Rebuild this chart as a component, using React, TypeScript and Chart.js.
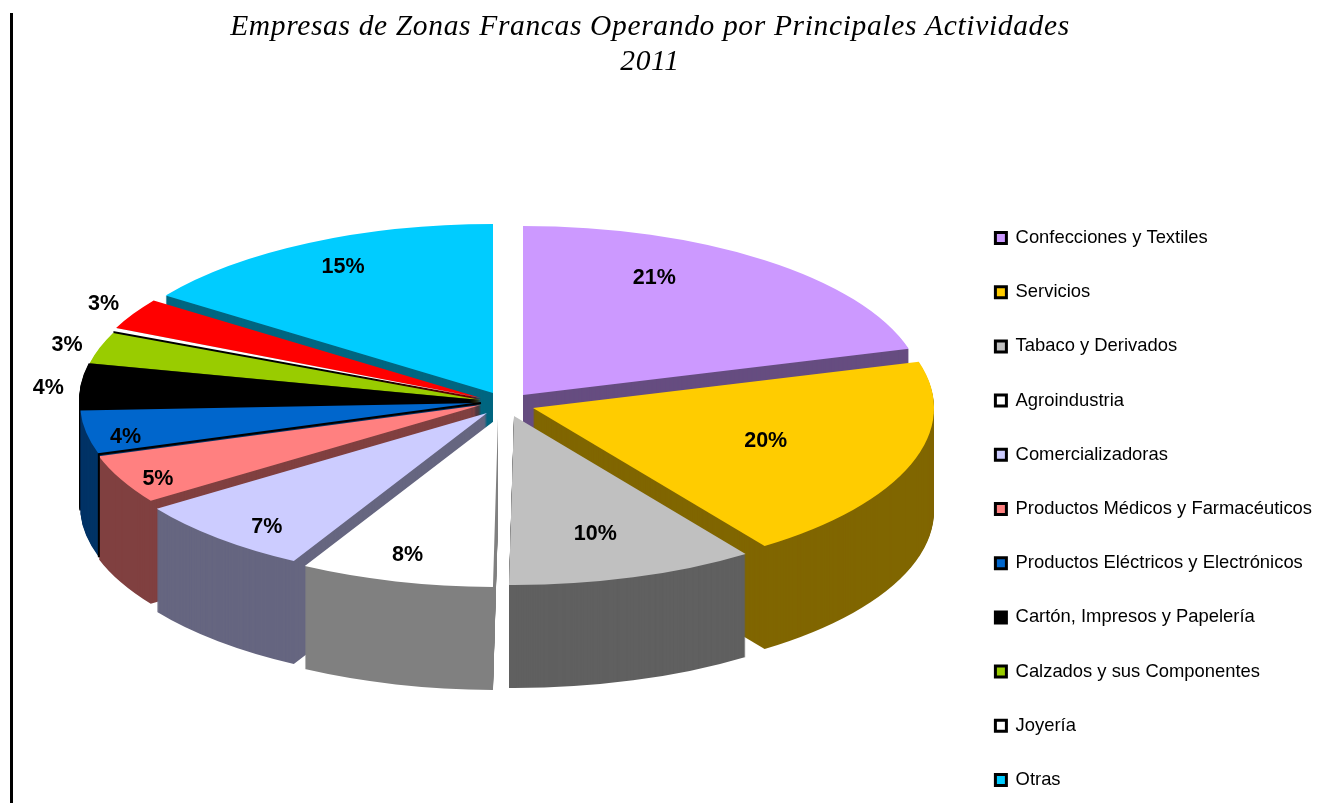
import React, { useEffect, useRef } from "react";
import { Chart, registerables } from "chart.js";

Chart.register(...registerables);

const TITLE_LINES = ["Empresas de Zonas Francas Operando por Principales Actividades", "2011"];
const sliceNames = [
  "Confecciones y Textiles",
  "Servicios",
  "Tabaco y Derivados",
  "Agroindustria",
  "Comercializadoras",
  "Productos Médicos y Farmacéuticos",
  "Productos Eléctricos y Electrónicos",
  "Cartón, Impresos y Papelería",
  "Calzados y sus Componentes",
  "Joyería",
  "",
  "Otras",
];
const sliceValues = [20.6, 19.6, 10, 7.8, 7.4, 4.7, 4.2, 4.2, 3, 0.3, 3, 15.2];
const topColors = ["#CC99FF", "#FFCC00", "#C0C0C0", "#FFFFFF", "#CCCCFF", "#FF8080", "#0066CC", "#000000", "#99CC00", "#FFFFFF", "#FF0000", "#00CCFF"];
const wallColors = ["#664D80", "#806600", "#606060", "#808080", "#666680", "#804040", "#003366", "#000000", "#4D6600", "#000000", "#800000", "#006680"];

// Screen placement of each exploded wedge (its apex) relative to the pie centre.
const PIE = { cx: 505, cy: 403, rx: 401, ry: 169, depth: 103 };
const apexShiftX = [18, 28, 9, -7, -18, -24, -24, -25, -24, -24, -24, -12];
const apexShiftY = [-8, 5, 13, 15, 10, 2, 0, -3, -3, -5, -5, -10];
const labelNudgeX = [-38, -32, -2, -19, -32, -71, -79, -152, -147, 0, -134, -21];
const labelNudgeY = [-23, -6, 5, 23, 26, 22, 13, -2, -18, 0, -35, -21];
const paintOrder = [11, 0, 10, 9, 8, 7, 1, 6, 5, 4, 2, 3];
const OUTLINED_SLICE = 6;
const LEGEND_DROP = 32.5;

const layoutTweaks = {
  id: "layoutTweaks",
  afterLayout(chart: any) {
    const legend = chart.legend;
    legend.top += LEGEND_DROP;
    legend.bottom += LEGEND_DROP;
    const block = chart.titleBlock;
    if (!block || block.__spaced) return;
    const draw = block.draw.bind(block);
    block.__spaced = true;
    block.draw = (...args: any[]) => {
      const ctx = chart.ctx;
      ctx.save();
      ctx.letterSpacing = "0.65px";
      draw(...args);
      ctx.restore();
    };
  },
};

const pie3d = {
  id: "pie3d",
  beforeDatasetsDraw(chart: any) {
    const ctx = chart.ctx;
    const arcs = chart.getDatasetMeta(0).data;
    const total = sliceValues.reduce((a, b) => a + b, 0);
    const place = (arc: any, i: number, lift: number) => {
      const r = arc.outerRadius;
      ctx.save();
      ctx.translate(PIE.cx + apexShiftX[i], PIE.cy + apexShiftY[i] + lift);
      ctx.scale(PIE.rx / r, PIE.ry / r);
      ctx.translate(-arc.x, -arc.y);
    };
    for (const i of paintOrder) {
      const arc = arcs[i];
      const saved = arc.options;
      arc.options = Object.create(saved, { backgroundColor: { value: wallColors[i] } });
      for (let d = PIE.depth; d >= 1; d--) {
        place(arc, i, d);
        arc.draw(ctx);
        ctx.restore();
      }
      arc.options = saved;
      place(arc, i, 0);
      arc.draw(ctx);
      ctx.restore();
    }
    // Black edge between the blue wedge and the salmon one, as in the source.
    const edge = arcs[OUTLINED_SLICE];
    const ax = PIE.cx + apexShiftX[OUTLINED_SLICE];
    const ay = PIE.cy + apexShiftY[OUTLINED_SLICE];
    const ex = ax + PIE.rx * Math.cos(edge.startAngle);
    const ey = ay + PIE.ry * Math.sin(edge.startAngle);
    ctx.save();
    ctx.strokeStyle = "#000";
    ctx.lineWidth = 2;
    ctx.beginPath();
    ctx.moveTo(ax, ay);
    ctx.lineTo(ex, ey);
    ctx.lineTo(ex, ey + PIE.depth);
    ctx.stroke();
    ctx.restore();

    ctx.save();
    ctx.font = "bold 21.5px 'Liberation Sans'";
    ctx.fillStyle = "#000";
    ctx.textAlign = "center";
    ctx.textBaseline = "middle";
    arcs.forEach((arc: any, i: number) => {
      if (sliceValues[i] < 1) return;
      const mid = (arc.startAngle + arc.endAngle) / 2;
      const x = PIE.cx + apexShiftX[i] + 0.7 * PIE.rx * Math.cos(mid) + labelNudgeX[i];
      const y = PIE.cy + apexShiftY[i] + 0.7 * PIE.ry * Math.sin(mid) + labelNudgeY[i];
      ctx.fillText(Math.round((sliceValues[i] / total) * 100) + "%", x, y);
    });
    ctx.restore();
    return false;
  },
};

export default function App() {
  const ref = useRef<HTMLCanvasElement>(null);
  useEffect(() => {
    const chart = new Chart(ref.current as HTMLCanvasElement, {
      type: "pie",
      data: {
        labels: sliceNames,
        datasets: [{ data: sliceValues, backgroundColor: topColors, borderWidth: 0 }],
      },
      plugins: [layoutTweaks, pie3d],
      options: {
        responsive: false,
        animation: false,
        layout: { padding: { left: -22, right: 12, top: 0, bottom: -63 } },
        plugins: {
          tooltip: { enabled: false },
          title: {
            display: true,
            text: TITLE_LINES,
            color: "#000",
            font: { family: "'Liberation Serif'", style: "italic", size: 29.5, weight: "normal", lineHeight: 1.186 },
            padding: { top: 10, bottom: 70 },
          },
          legend: {
            position: "right",
            fullSize: false,
            labels: {
              font: { family: "'Liberation Sans'", size: 18.4 },
              color: "#000",
              boxWidth: 11,
              boxHeight: 11,
              padding: 35.8,
              useBorderRadius: true,
              borderRadius: 2,
              generateLabels: () =>
                sliceNames
                  .map((text, i) => ({ text, fillStyle: topColors[i], strokeStyle: "#000", lineWidth: 3, index: i, hidden: false }))
                  .filter((item) => item.text !== ""),
            },
          },
        },
      },
    } as any);
    return () => chart.destroy();
  }, []);
  return (
    <div style={{ position: "absolute", left: 0, top: 0, width: 1334, height: 803, background: "#fff", overflow: "hidden" }}>
      <div style={{ position: "absolute", left: 10, top: 13, width: 3, height: 790, background: "#000" }} />
      <canvas ref={ref} width={1334} height={803} style={{ position: "absolute", left: 0, top: 0 }} />
    </div>
  );
}
